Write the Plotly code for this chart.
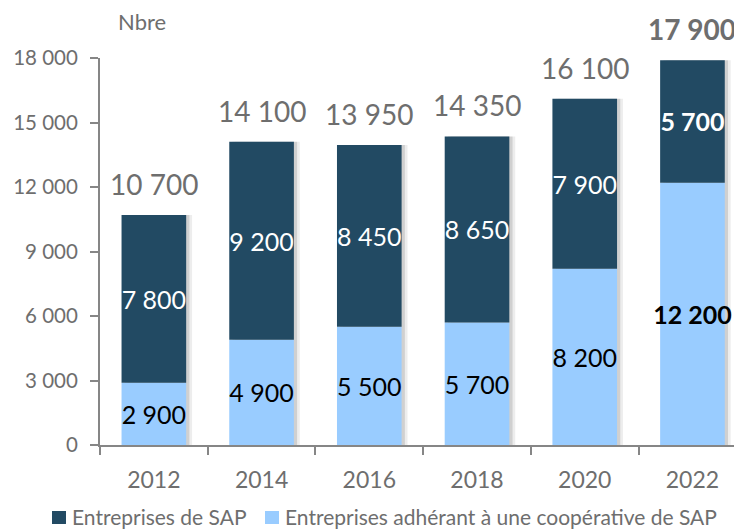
import plotly.graph_objects as go

years = ["2012", "2014", "2016", "2018", "2020", "2022"]
coop = [2900, 4900, 5500, 5700, 8200, 12200]        # Entreprises adhérant à une coopérative de SAP
sap = [7800, 9200, 8450, 8650, 7900, 5700]          # Entreprises de SAP
totals = [10700, 14100, 13950, 14350, 16100, 17900]
y_ticks = [0, 3000, 6000, 9000, 12000, 15000, 18000]
legend_names = ["Entreprises de SAP", "Entreprises adhérant à une coopérative de SAP"]

DARK = "#224A63"
LIGHT = "#99CCFF"
GREY = "#6E6E6E"
FONT = "Lato, Open Sans, sans-serif"
BAR_W = 0.6


def fmt(v):
    return f"{v:,}".replace(",", " ")


def lab(v, i):
    s = fmt(v)
    return f"<b>{s}</b>" if i == len(years) - 1 else s


fig = go.Figure()
# soft drop shadow to the right of each bar
for shift, alpha in [(0.055, 0.07), (0.03, 0.12)]:
    fig.add_trace(go.Bar(
        x=years, y=totals, width=BAR_W, offset=-BAR_W / 2 + shift,
        marker=dict(color=f"rgba(0,0,0,{alpha})", line=dict(width=0)),
        showlegend=False, hoverinfo="skip",
    ))
fig.add_trace(go.Bar(
    x=years, y=coop, name=legend_names[1], width=BAR_W, offset=-BAR_W / 2,
    marker=dict(color=LIGHT, line=dict(width=0)),
    text=[lab(v, i) for i, v in enumerate(coop)],
    textposition="inside", insidetextanchor="middle", constraintext="none",
    textangle=0, textfont=dict(color="black", size=25, family=FONT),
    showlegend=False, hoverinfo="skip",
))
fig.add_trace(go.Bar(
    x=years, y=sap, base=coop, name=legend_names[0], width=BAR_W, offset=-BAR_W / 2,
    marker=dict(color=DARK, line=dict(width=0)),
    text=[lab(v, i) for i, v in enumerate(sap)],
    textposition="inside", insidetextanchor="middle", constraintext="none",
    textangle=0, textfont=dict(color="white", size=25, family=FONT),
    showlegend=False, hoverinfo="skip",
))

annotations = [dict(
    text="Nbre", xref="paper", yref="paper", x=0.066, y=1.0,
    yshift=37, showarrow=False,
    font=dict(size=22, color=GREY, family=FONT), xanchor="center",
    yanchor="middle",
)]
for i, t in enumerate(totals):
    annotations.append(dict(
        x=i, y=t, xref="x", yref="y", text=lab(t, i), showarrow=False,
        yanchor="middle", yshift=31,
        font=dict(size=28, color=GREY, family=FONT),
    ))

# legend drawn below the plot (squares + labels)
legend_sq_x = [(-0.0748, -0.0530), (0.2570, 0.2788)]
legend_txt_x = [-0.0467, 0.2850]
legend_cols = [DARK, LIGHT]
shapes = []
for (x0, x1), tx, col, name in zip(legend_sq_x, legend_txt_x, legend_cols, legend_names):
    shapes.append(dict(type="rect", xref="paper", yref="paper",
                       x0=x0, x1=x1, y0=-0.2041, y1=-0.1705,
                       fillcolor=col, line=dict(width=0)))
    annotations.append(dict(
        text=name, xref="paper", yref="paper", x=tx, y=-0.186,
        xanchor="left", yanchor="middle", showarrow=False,
        font=dict(size=21, color=GREY, family=FONT),
    ))

fig.update_layout(
    width=734, height=523,
    margin=dict(l=92, r=0, t=50, b=86, autoexpand=False),
    barmode="overlay",
    plot_bgcolor="white", paper_bgcolor="white",
    font=dict(family=FONT, color=GREY, size=21),
    showlegend=False,
    xaxis=dict(
        type="category", range=[-0.5, 5.46],
        showline=True, linecolor="#868686", linewidth=2,
        ticks="outside", tickson="boundaries", ticklen=8, tickwidth=2,
        tickcolor="#868686", showgrid=False, automargin=False,
        ticklabelstandoff=13,
        tickfont=dict(size=23, color=GREY, family=FONT),
    ),
    yaxis=dict(
        range=[0, 18000], tickvals=y_ticks, ticktext=[fmt(v) for v in y_ticks],
        showline=True, linecolor="#868686", linewidth=2,
        ticks="outside", ticklen=8, tickwidth=2, tickcolor="#868686",
        showgrid=False, zeroline=False, automargin=False,
        ticklabelstandoff=8,
        tickfont=dict(size=20.5, color=GREY, family=FONT),
    ),
    shapes=shapes,
    annotations=annotations,
)

fig.write_html("out.html")
